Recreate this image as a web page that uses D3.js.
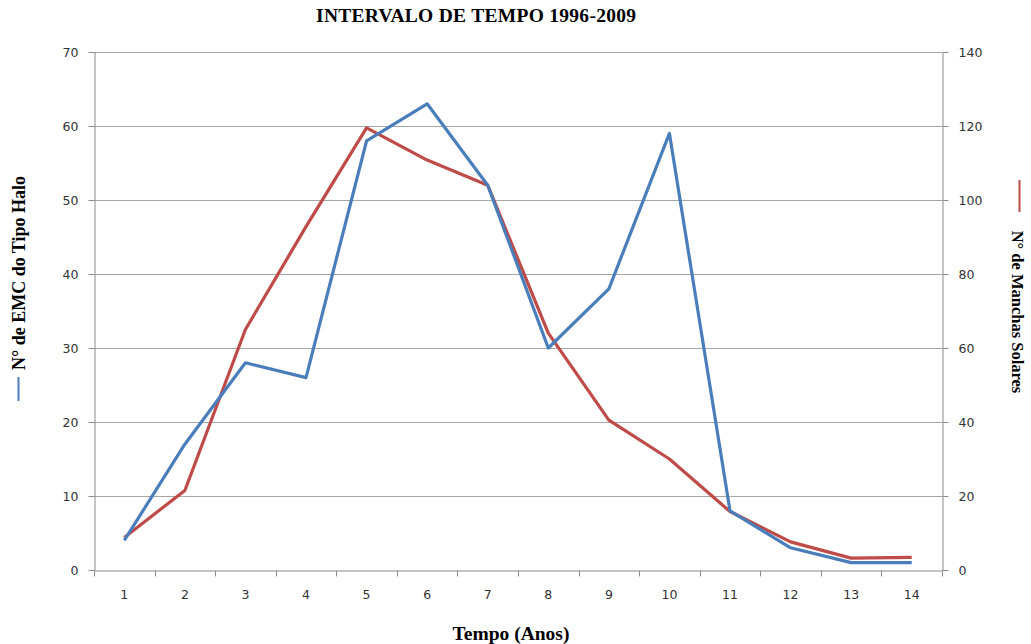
<!DOCTYPE html>
<html lang="pt">
<head>
    <meta charset="UTF-8">
    <title>Intervalo de tempo 1996-2009</title>
    <style>
        body { margin: 0; background: #fff; }
    </style>
</head>
<body>
    <div class="canvas"></div>

    <script src="https://cdnjs.cloudflare.com/ajax/libs/d3/7.8.5/d3.min.js"></script>

    <script>
        const anos = ["1","2","3","4","5","6","7","8","9","10","11","12","13","14"];
        const emcHalo = [4, 17, 28, 26, 58, 63, 52, 30, 38, 59, 8, 3, 1, 1];
        const manchas = [8.8, 21.5, 65, 92.8, 119.5, 110.8, 104, 64, 40.5, 30, 15.8, 7.6, 3.2, 3.4];
        const ticksEsq = [0, 10, 20, 30, 40, 50, 60, 70];
        const ticksDir = [0, 20, 40, 60, 80, 100, 120, 140];

        const W = 1031, H = 644;
        const m = { left: 94, right: 1031 - 942, top: 52, bottom: 644 - 570 };

        const svg = d3.select(".canvas").append("svg")
            .attr("width", W)
            .attr("height", H);

        const x = d3.scaleBand().domain(anos).range([m.left, W - m.right]);
        const yL = d3.scaleLinear().domain([0, 70]).range([H - m.bottom, m.top]);
        const yR = d3.scaleLinear().domain([0, 140]).range([H - m.bottom, m.top]);

        // gridlines
        svg.append("g")
            .selectAll("line")
            .data(ticksEsq.slice(1))
            .join("line")
                .attr("x1", m.left)
                .attr("x2", W - m.right)
                .attr("y1", d => Math.round(yL(d)) + 0.5)
                .attr("y2", d => Math.round(yL(d)) + 0.5)
                .attr("stroke", "#a6a6a6");

        const tickFont = g => g
            .call(g => g.select(".domain").attr("stroke", "#8c8c8c"))
            .call(g => g.selectAll(".tick line").attr("stroke", "#8c8c8c"))
            .call(g => g.selectAll(".tick text")
                .attr("font-family", "DejaVu Sans, Verdana, sans-serif")
                .attr("font-size", 12.5)
                .attr("fill", "#333"));

        svg.append("g")
            .attr("transform", `translate(${m.left + 0.5},0)`)
            .call(d3.axisLeft(yL).tickValues(ticksEsq).tickSize(6).tickSizeOuter(0).tickPadding(10))
            .call(tickFont);

        svg.append("g")
            .attr("transform", `translate(${W - m.right + 0.5},0)`)
            .call(d3.axisRight(yR).tickValues(ticksDir).tickSize(6).tickSizeOuter(0).tickPadding(10))
            .call(tickFont);

        const xAxis = svg.append("g")
            .attr("transform", `translate(0,${H - m.bottom + 0.5})`)
            .call(d3.axisBottom(x).tickSize(0).tickPadding(20))
            .call(tickFont);

        // ticks between categories, like the spreadsheet
        xAxis.selectAll(".sep")
            .data(d3.range(anos.length + 1))
            .join("line")
                .attr("class", "sep")
                .attr("x1", i => Math.round(m.left + i * x.step()) + 0.5)
                .attr("x2", i => Math.round(m.left + i * x.step()) + 0.5)
                .attr("y1", 0)
                .attr("y2", 6)
                .attr("stroke", "#8c8c8c");

        const cx = d => x(d) + x.bandwidth() / 2;

        svg.append("path")
            .datum(manchas)
            .attr("fill", "none")
            .attr("stroke", "#be4b48")
            .attr("stroke-width", 3.2)
            .attr("stroke-linejoin", "round")
            .attr("d", d3.line().x((d, i) => cx(anos[i])).y(d => yR(d)));

        svg.append("path")
            .datum(emcHalo)
            .attr("fill", "none")
            .attr("stroke", "#4a7ebb")
            .attr("stroke-width", 3.2)
            .attr("stroke-linejoin", "round")
            .attr("d", d3.line().x((d, i) => cx(anos[i])).y(d => yL(d)));

        const serif = "Liberation Serif, Times New Roman, serif";

        svg.append("text")
            .attr("x", 476)
            .attr("y", 22)
            .attr("text-anchor", "middle")
            .attr("font-family", serif)
            .attr("font-weight", "bold")
            .attr("font-size", 19.5)
            .attr("textLength", 320)
            .text("INTERVALO DE TEMPO 1996-2009");

        svg.append("text")
            .attr("x", 511)
            .attr("y", 640)
            .attr("text-anchor", "middle")
            .attr("font-family", serif)
            .attr("font-weight", "bold")
            .attr("font-size", 19.5)
            .text("Tempo (Anos)");

        // left axis title with legend key
        svg.append("text")
            .attr("transform", "translate(25,273) rotate(-90)")
            .attr("text-anchor", "middle")
            .attr("font-family", serif)
            .attr("font-weight", "bold")
            .attr("font-size", 18)
            .text("N° de EMC do Tipo Halo");
        svg.append("line")
            .attr("x1", 18.5).attr("x2", 18.5)
            .attr("y1", 377).attr("y2", 401)
            .attr("stroke", "#4a7ebb")
            .attr("stroke-width", 2);

        // right axis title with legend key
        svg.append("text")
            .attr("transform", "translate(1012,312) rotate(90)")
            .attr("text-anchor", "middle")
            .attr("font-family", serif)
            .attr("font-weight", "bold")
            .attr("font-size", 16.5)
            .text("N° de Manchas Solares");
        svg.append("line")
            .attr("x1", 1019.5).attr("x2", 1019.5)
            .attr("y1", 180).attr("y2", 212)
            .attr("stroke", "#be4b48")
            .attr("stroke-width", 2);
    </script>
</body>
</html>
